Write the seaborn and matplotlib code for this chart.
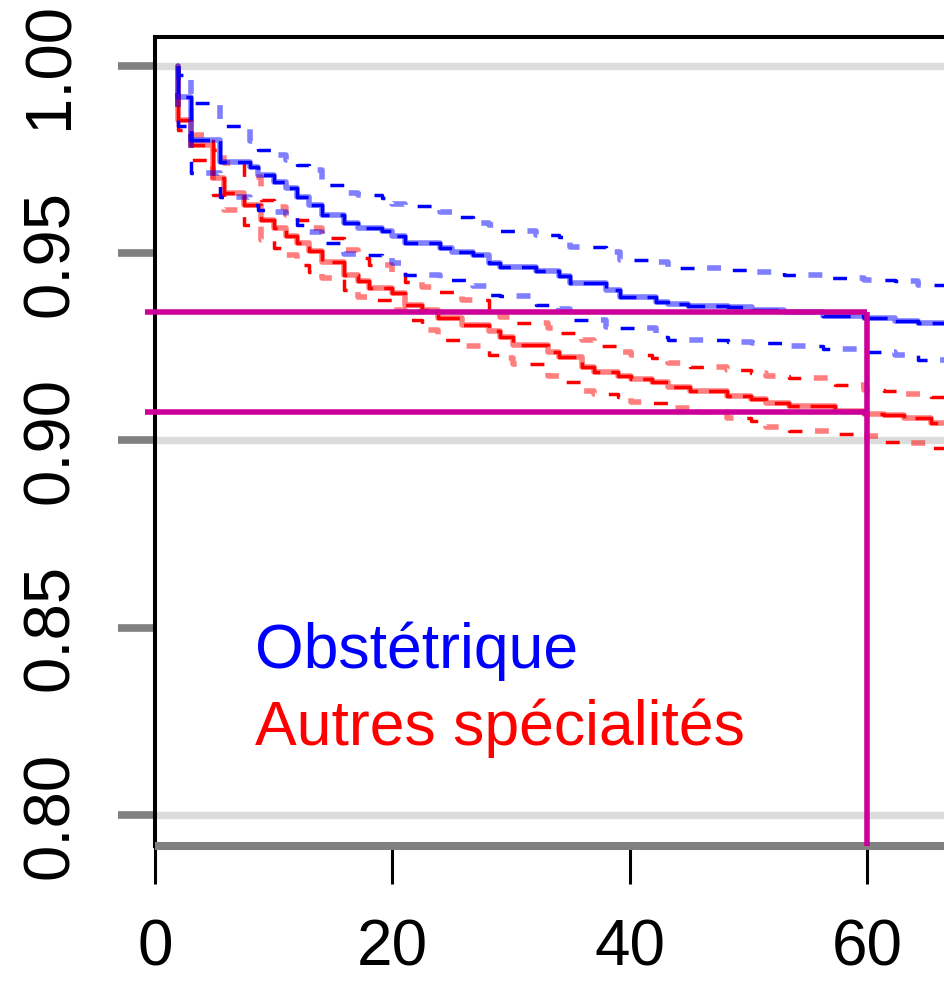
import matplotlib
matplotlib.use("Agg")
import matplotlib.pyplot as plt
import pandas as pd
import seaborn as sns

# --- Obstétrique (blue): KM estimate + confidence bounds ---
obst_t = [1.9, 1.94, 3, 5.5, 8, 8.7, 10, 11, 12, 13, 14.1, 15.9, 17.1, 19.1, 20, 21.1,
          24, 25, 26.8, 28.1, 29.1, 32.1, 34, 35, 38, 39.2, 42.2, 43.2, 44.9, 48.3,
          50.3, 53, 56.3, 59.7, 62.3, 64.3, 67]
obst_s = [1.0, .9917, .9803, .9744, .9731, .9709, .9691, .9675, .9651, .9629, .9603, .9581,
          .9568, .9560, .9547, .9528, .9515, .9504, .9496, .9475, .9464, .9453, .9440, .9421,
          .9403, .9384, .9371, .9365, .9360, .9357, .9349, .9344, .9333, .9328, .9320, .9315, .9315]
obst_hi = [1.0, .9975, .9900, .9840, .9800, .9776, .9762, .9749, .9736, .9723, .9683, .9661,
           .9655, .9648, .9632, .9625, .9611, .9597, .9581, .9575, .9560, .9549, .9544, .9517,
           .9504, .9483, .9477, .9461, .9461, .9456, .9451, .9443, .9435, .9429, .9425, .9416, .9416]
obst_lo = [1.0, .9840, .9715, .9650, .9630, .9615, .9610, .9600, .9575, .9557, .9528, .9499,
           .9495, .9491, .9475, .9443, .9429, .9429, .9413, .9389, .9385, .9363, .9350, .9323,
           .9304, .9300, .9277, .9269, .9269, .9264, .9259, .9251, .9243, .9237, .9227, .9216, .9216]

# --- Autres spécialités (red) ---
autres_t = [1.9, 1.94, 3, 4.9, 5.8, 7.5, 8.9, 10, 11, 12, 13, 14.1, 15.9, 17.1, 18, 20, 21.1,
            22.5, 23.8, 25.9, 28.1, 29.1, 30.2, 33.1, 34, 36, 37, 39, 40.1, 41.9, 43.2, 45.1,
            48.2, 50.2, 51.5, 53.4, 57.3, 59.7, 61.4, 63.1, 65.4, 67]
autres_s = [1.0, .9856, .9789, .9701, .9661, .9629, .9589, .9568, .9547, .9528, .9507, .9477,
            .9443, .9427, .9408, .9395, .9363, .9349, .9328, .9309, .9291, .9277, .9256, .9237,
            .9224, .9197, .9184, .9173, .9163, .9155, .9144, .9131, .9120, .9112, .9101, .9091,
            .9080, .9072, .9067, .9059, .9048, .9048]
autres_hi = [1.0, .9888, .9816, .9776, .9741, .9704, .9643, .9624, .9603, .9589, .9568, .9541,
             .9509, .9488, .9469, .9451, .9424, .9411, .9397, .9376, .9349, .9331, .9315, .9301,
             .9288, .9269, .9251, .9235, .9227, .9221, .9208, .9197, .9189, .9179, .9173, .9168,
             .9149, .9136, .9131, .9123, .9115, .9115]
autres_lo = [1.0, .9829, .9749, .9656, .9616, .9576, .9536, .9515, .9496, .9469, .9451, .9435,
             .9403, .9384, .9376, .9349, .9323, .9296, .9269, .9251, .9229, .9221, .9205, .9173,
             .9157, .9133, .9125, .9117, .9104, .9099, .9088, .9075, .9061, .9051, .9037, .9024,
             .9016, .9011, .8997, .8992, .8981, .8981]

# reference survival at 60 months
t_ref = 60
s_ref = [0.9343, 0.9076]

x_ticks = [0, 20, 40, 60]
y_ticks = [0.80, 0.85, 0.90, 0.95, 1.00]
y_tick_labels = ["0.80", "0.85", "0.90", "0.95", "1.00"]
grid_y = [0.80, 0.90, 1.00]
group_names = ["Obstétrique", "Autres spécialités"]

sns.set_style("white")
plt.rcParams['font.family'] = ['Liberation Sans', 'DejaVu Sans']
plt.rcParams['lines.scale_dashes'] = False

fig = plt.figure(figsize=(9.45, 9.85), dpi=100)
ax = fig.add_axes([155 / 945, 1 - 846 / 985, 790 / 945, (846 - 37) / 985])

x_max = 66.55
y_min, y_max = 0.79173, 1.00773

ax.hlines(grid_y, 0, x_max, color='#dcdcdc', lw=5.3, zorder=0.5)


def km_line(t, s, color, solid, z):
    df = pd.DataFrame({'t': t, 's': s})
    if solid:
        sns.lineplot(data=df, x='t', y='s', drawstyle='steps-post', sort=False, errorbar=None,
                     color=color, alpha=0.5, lw=4.0, ax=ax, zorder=z)
        sns.lineplot(data=df, x='t', y='s', drawstyle='steps-post', sort=False, errorbar=None,
                     color=color, lw=2.5, linestyle=(0, (20, 8)), ax=ax, zorder=z + 0.1)
    else:
        sns.lineplot(data=df, x='t', y='s', drawstyle='steps-post', sort=False, errorbar=None,
                     color=color, alpha=0.5, lw=4.0, linestyle=(19.6, (10, 29)), ax=ax, zorder=z)
        sns.lineplot(data=df, x='t', y='s', drawstyle='steps-post', sort=False, errorbar=None,
                     color=color, lw=2.5, linestyle=(0, (10, 29)), ax=ax, zorder=z + 0.1)


km_line(autres_t, autres_hi, 'red', False, 2)
km_line(autres_t, autres_lo, 'red', False, 2)
km_line(autres_t, autres_s, 'red', True, 2)
km_line(obst_t, obst_hi, 'blue', False, 3)
km_line(obst_t, obst_lo, 'blue', False, 3)
km_line(obst_t, obst_s, 'blue', True, 3)

# reference lines at 60 months
ax.hlines(s_ref, -0.84, t_ref, color='#cc0099', lw=4.0, zorder=5, clip_on=False)
ax.vlines(t_ref, y_min, s_ref[0], color='#cc0099', lw=4.0, zorder=5)

ax.text(8.42, 0.8393, group_names[0], color='blue', fontsize=45, ha='left', va='baseline')
ax.text(8.42, 0.8188, group_names[1], color='red', fontsize=45, ha='left', va='baseline')

ax.set_xlim(0, x_max)
ax.set_ylim(y_min, y_max)
ax.set_xticks(x_ticks)
ax.set_xticklabels([str(v) for v in x_ticks])
ax.set_yticks(y_ticks)
ax.set_yticklabels(y_tick_labels, rotation=90, va='center')
ax.set_xlabel("")
ax.set_ylabel("")

ax.tick_params(axis='y', length=26.6, width=5.5, color='#808080', pad=27, labelsize=47,
               labelcolor='black', left=True)
ax.tick_params(axis='x', length=27.4, width=2.2, color='black', pad=25, labelsize=46,
               labelcolor='black', bottom=True)

for side in ['left', 'top']:
    ax.spines[side].set_color('black')
    ax.spines[side].set_linewidth(2.9)
ax.spines['right'].set_visible(False)
ax.spines['bottom'].set_color('#808080')
ax.spines['bottom'].set_linewidth(5.8)
ax.spines['bottom'].set_capstyle('butt')

fig.savefig("out.png", dpi=100)
